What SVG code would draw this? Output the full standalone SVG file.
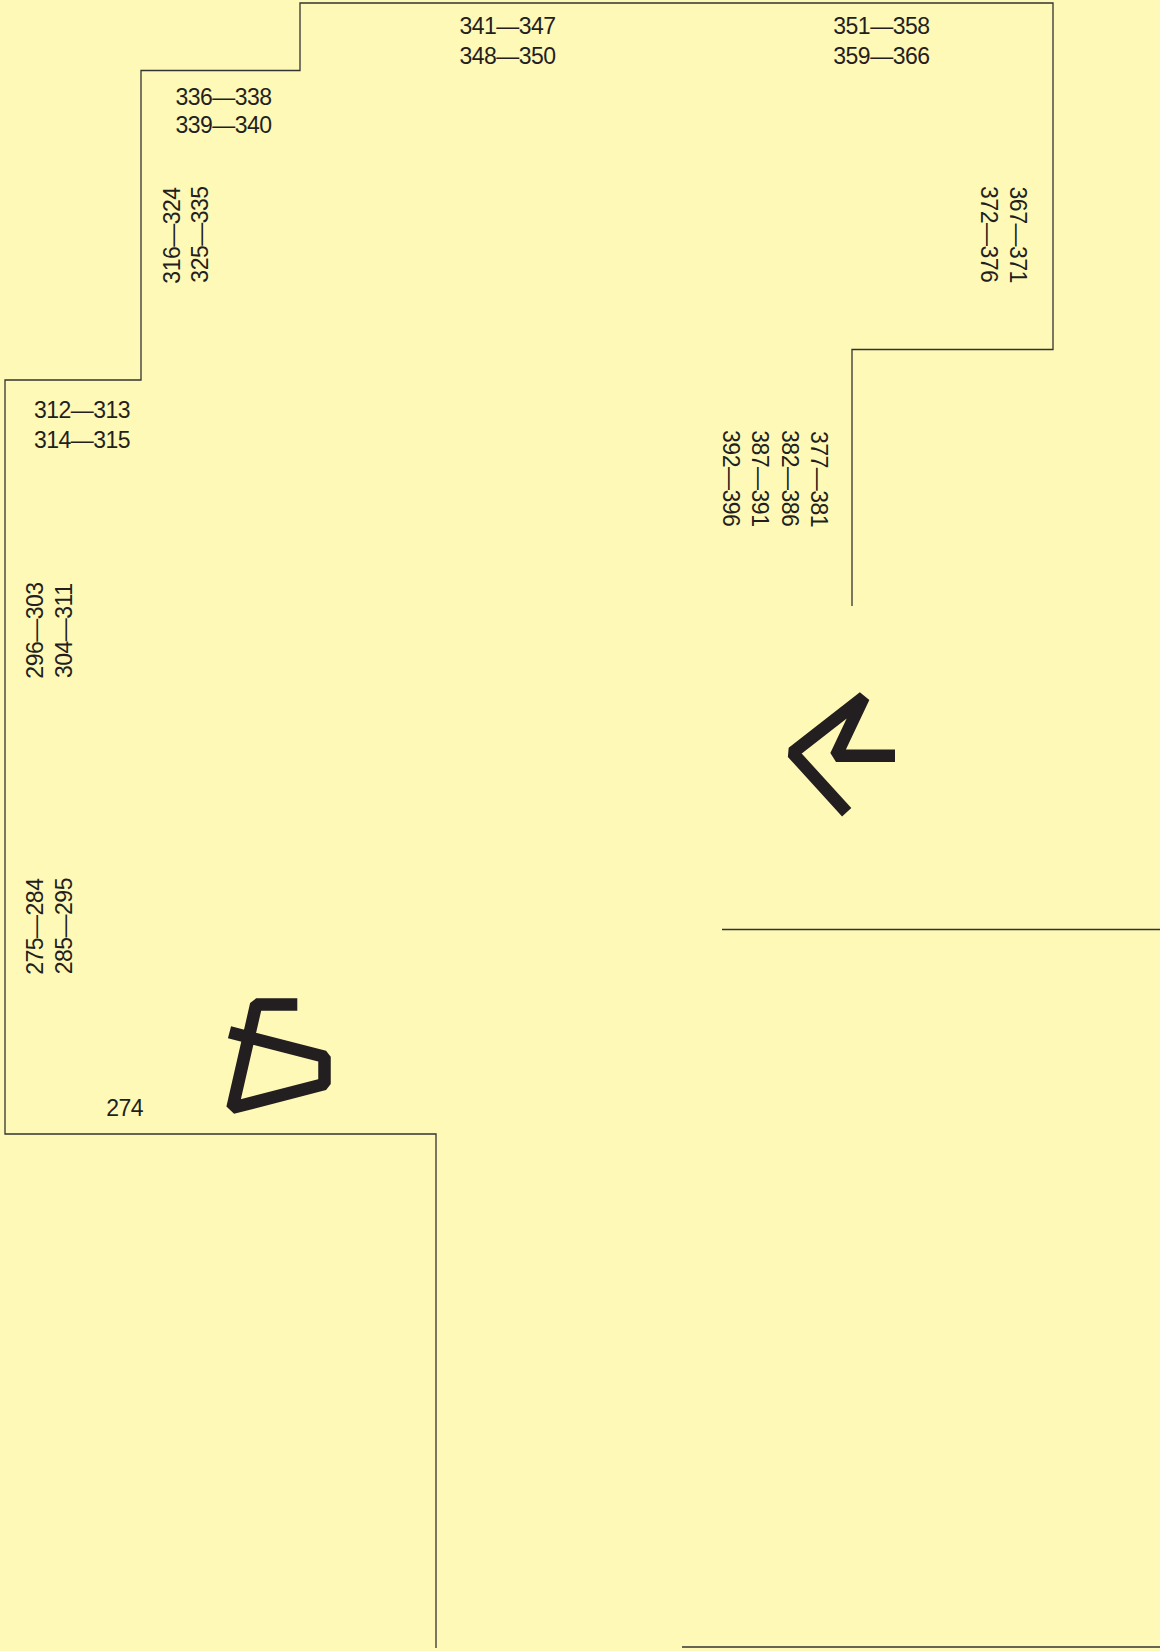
<svg xmlns="http://www.w3.org/2000/svg" width="1160" height="1651" viewBox="0 0 1160 1651">
  <style>
    .wall { fill: none; stroke: #333333; stroke-width: 1.3; }
    .lbl { font-family: "Liberation Sans", Arial, sans-serif; font-size: 23px; letter-spacing: -0.5px; fill: #231f20; text-anchor: middle; }
    .icon { fill: none; stroke: #231f20; stroke-width: 12.5; stroke-linejoin: bevel; stroke-linecap: butt; }
  </style>
  <rect x="0" y="0" width="1160" height="1651" fill="#FFF9B7"/>
  <g id="walls">
    <path class="wall" d="M436,1648 L436,1134 L5,1134 L5,380 L141,380 L141,70.5 L300,70.5 L300,3 L1053,3 L1053,349.5 L852,349.5 L852,606"/>
    <path class="wall" d="M722,929.5 L1160,929.5"/>
    <path class="wall" d="M682,1647 L1160,1647"/>
  </g>
  <g id="labels">
    <text class="lbl" x="507.5" y="34.3">341—347</text>
    <text class="lbl" x="507.5" y="64.3">348—350</text>
    <text class="lbl" x="881.4" y="34.3">351—358</text>
    <text class="lbl" x="881.4" y="64.3">359—366</text>
    <text class="lbl" x="223.5" y="104.7">336—338</text>
    <text class="lbl" x="223.5" y="133.3">339—340</text>
    <text class="lbl" x="82" y="418.3">312—313</text>
    <text class="lbl" x="82" y="448.3">314—315</text>
    <text class="lbl" x="124.7" y="1115.7">274</text>
    <text class="lbl" transform="translate(180.2,235.5) rotate(-90)">316—324</text>
    <text class="lbl" transform="translate(208.3,234.5) rotate(-90)">325—335</text>
    <text class="lbl" transform="translate(42.7,630.5) rotate(-90)">296—303</text>
    <text class="lbl" transform="translate(71.7,630.8) rotate(-90)">304—311</text>
    <text class="lbl" transform="translate(42.7,926.7) rotate(-90)">275—284</text>
    <text class="lbl" transform="translate(71.7,926.2) rotate(-90)">285—295</text>
    <text class="lbl" transform="translate(1010.3,234.7) rotate(90)">367—371</text>
    <text class="lbl" transform="translate(980.7,234.2) rotate(90)">372—376</text>
    <text class="lbl" transform="translate(811,479) rotate(90)">377—381</text>
    <text class="lbl" transform="translate(781.7,478.2) rotate(90)">382—386</text>
    <text class="lbl" transform="translate(752.3,478.3) rotate(90)">387—391</text>
    <text class="lbl" transform="translate(722.7,478.2) rotate(90)">392—396</text>
  </g>
  <g id="arrow">
    <path class="icon" d="M846.7,812.3 L792.5,752.7 L863.7,697.3 L836,755.7 L895,755.7"/>
  </g>
  <g id="symbol">
    <path class="icon" d="M297.3,1004.5 L256.2,1004.5 L232.5,1107.8 L324.5,1084 L324.5,1056.7 L229.5,1032.3"/>
  </g>
</svg>
